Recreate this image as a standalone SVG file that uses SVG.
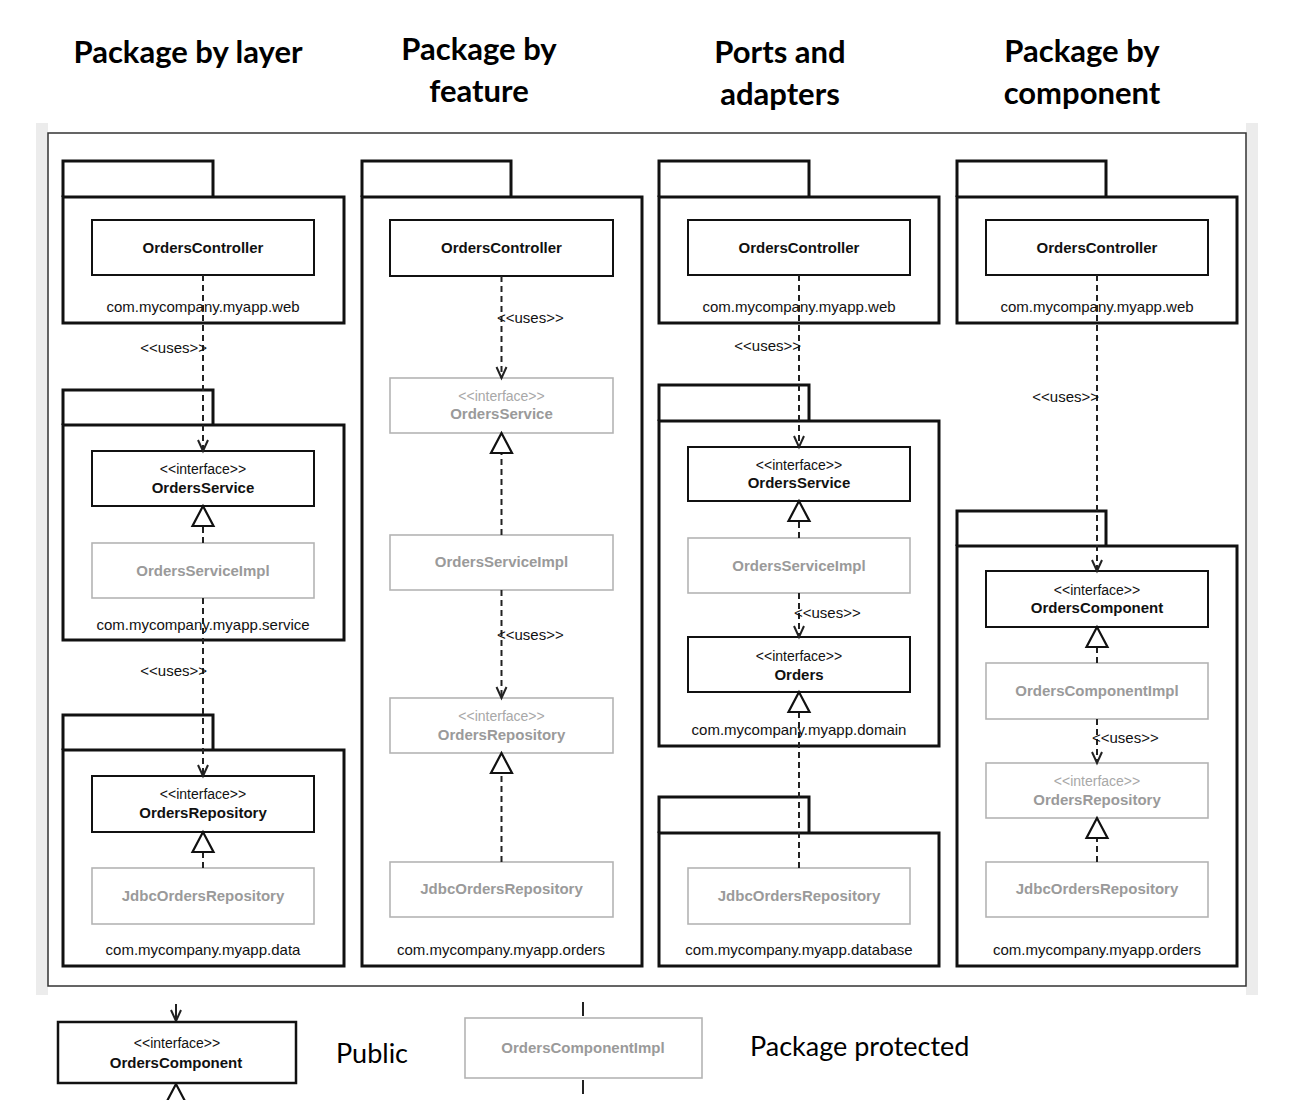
<svg xmlns="http://www.w3.org/2000/svg" width="1308" height="1100" viewBox="0 0 1308 1100">
<style>
.hd{font-family:Lato,"Liberation Sans",sans-serif;font-weight:bold;font-size:31px;fill:#000;text-anchor:middle}
.lg{font-family:Lato,"Liberation Sans",sans-serif;font-size:27px;fill:#000}
.pkg{fill:#fff;stroke:#111;stroke-width:3}
.bx{fill:#fff;stroke:#111;stroke-width:2}
.gb{fill:#fff;stroke:#b4b4b4;stroke-width:1.6}
.nm{font-family:"Liberation Sans",Arial,sans-serif;font-weight:bold;font-size:15px;fill:#111;text-anchor:middle}
.gn{font-family:"Liberation Sans",Arial,sans-serif;font-weight:bold;font-size:15px;fill:#9a9a9a;text-anchor:middle}
.st{font-family:"Liberation Sans",Arial,sans-serif;font-size:14px;fill:#111;text-anchor:middle}
.gs{font-family:"Liberation Sans",Arial,sans-serif;font-size:14px;fill:#a8a8a8;text-anchor:middle}
.pl{font-family:"Liberation Sans",Arial,sans-serif;font-size:15px;fill:#111;text-anchor:middle}
.us{font-family:"Liberation Sans",Arial,sans-serif;font-size:15px;fill:#111}
.dl{fill:none;stroke:#222;stroke-width:2;stroke-dasharray:6 4}
.use{marker-end:url(#open)}
.real{marker-end:url(#tri)}
</style>
<defs>
<marker id="open" markerUnits="userSpaceOnUse" markerWidth="14" markerHeight="14" viewBox="-12 -7 14 14" refX="0" refY="0" orient="auto" overflow="visible">
<path d="M-11,-5 L0,0 L-11,5" fill="none" stroke="#222" stroke-width="2" stroke-dasharray="none"/>
</marker>
<marker id="tri" markerUnits="userSpaceOnUse" markerWidth="24" markerHeight="26" viewBox="-22 -12 24 24" refX="0" refY="0" orient="auto" overflow="visible">
<path d="M0,0 L-20,-10.5 L-20,10.5 Z" fill="#fff" stroke="#111" stroke-width="2.2" stroke-dasharray="none"/>
</marker>
</defs>
<rect width="1308" height="1100" fill="#fff"/>
<rect x="36" y="123" width="12" height="872" fill="#ececec"/>
<rect x="1246" y="123" width="12" height="872" fill="#ececec"/>
<rect x="48" y="133" width="1198" height="853" fill="#fff" stroke="#333" stroke-width="1.5"/>

<g id="headers">
<text class="hd" x="188" y="63">Package by layer</text>
<text class="hd" x="479" y="60">Package by</text>
<text class="hd" x="479" y="102">feature</text>
<text class="hd" x="780" y="63">Ports and</text>
<text class="hd" x="780" y="105">adapters</text>
<text class="hd" x="1082" y="62">Package by</text>
<text class="hd" x="1082" y="104">component</text>
</g>

<!-- Column 1: package by layer -->
<g id="pkg-layer-web">
<path class="pkg" d="M63,197 V161 H213 V197"/>
<rect class="pkg" x="63" y="197" width="281" height="126"/>
<text class="pl" x="203" y="312">com.mycompany.myapp.web</text>
</g>
<g id="layer-OrdersController">
<rect class="bx" x="92" y="220" width="222" height="55"/>
<text class="nm" x="203" y="253">OrdersController</text>
</g>
<g id="pkg-layer-service">
<path class="pkg" d="M63,425 V390 H213 V425"/>
<rect class="pkg" x="63" y="425" width="281" height="215"/>
<text class="pl" x="203" y="630">com.mycompany.myapp.service</text>
</g>
<g id="layer-OrdersService">
<rect class="bx" x="92" y="451" width="222" height="55"/>
<text class="st" x="203" y="474">&lt;&lt;interface&gt;&gt;</text>
<text class="nm" x="203" y="493">OrdersService</text>
</g>
<g id="layer-OrdersServiceImpl">
<rect class="gb" x="92" y="543" width="222" height="55"/>
<text class="gn" x="203" y="576">OrdersServiceImpl</text>
</g>
<g id="pkg-layer-data">
<path class="pkg" d="M63,750 V715 H213 V750"/>
<rect class="pkg" x="63" y="750" width="281" height="216"/>
<text class="pl" x="203" y="955">com.mycompany.myapp.data</text>
</g>
<g id="layer-OrdersRepository">
<rect class="bx" x="92" y="776" width="222" height="56"/>
<text class="st" x="203" y="799">&lt;&lt;interface&gt;&gt;</text>
<text class="nm" x="203" y="818">OrdersRepository</text>
</g>
<g id="layer-JdbcOrdersRepository">
<rect class="gb" x="92" y="868" width="222" height="56"/>
<text class="gn" x="203" y="901">JdbcOrdersRepository</text>
</g>

<!-- Column 2: package by feature -->
<g id="pkg-feature-orders">
<path class="pkg" d="M362,197 V161 H511 V197"/>
<rect class="pkg" x="362" y="197" width="280" height="769"/>
<text class="pl" x="501" y="955">com.mycompany.myapp.orders</text>
</g>
<g id="feature-OrdersController">
<rect class="bx" x="390" y="220" width="223" height="56"/>
<text class="nm" x="501.5" y="253">OrdersController</text>
</g>
<g id="feature-OrdersService">
<rect class="gb" x="390" y="378" width="223" height="55"/>
<text class="gs" x="501.5" y="401">&lt;&lt;interface&gt;&gt;</text>
<text class="gn" x="501.5" y="419">OrdersService</text>
</g>
<g id="feature-OrdersServiceImpl">
<rect class="gb" x="390" y="535" width="223" height="55"/>
<text class="gn" x="501.5" y="567">OrdersServiceImpl</text>
</g>
<g id="feature-OrdersRepository">
<rect class="gb" x="390" y="698" width="223" height="55"/>
<text class="gs" x="501.5" y="721">&lt;&lt;interface&gt;&gt;</text>
<text class="gn" x="501.5" y="740">OrdersRepository</text>
</g>
<g id="feature-JdbcOrdersRepository">
<rect class="gb" x="390" y="862" width="223" height="55"/>
<text class="gn" x="501.5" y="894">JdbcOrdersRepository</text>
</g>

<!-- Column 3: ports and adapters -->
<g id="pkg-ports-web">
<path class="pkg" d="M659,197 V161 H809 V197"/>
<rect class="pkg" x="659" y="197" width="280" height="126"/>
<text class="pl" x="799" y="312">com.mycompany.myapp.web</text>
</g>
<g id="ports-OrdersController">
<rect class="bx" x="688" y="220" width="222" height="55"/>
<text class="nm" x="799" y="253">OrdersController</text>
</g>
<g id="pkg-ports-domain">
<path class="pkg" d="M659,421 V385 H809 V421"/>
<rect class="pkg" x="659" y="421" width="280" height="325"/>
<text class="pl" x="799" y="735">com.mycompany.myapp.domain</text>
</g>
<g id="ports-OrdersService">
<rect class="bx" x="688" y="447" width="222" height="54"/>
<text class="st" x="799" y="470">&lt;&lt;interface&gt;&gt;</text>
<text class="nm" x="799" y="488">OrdersService</text>
</g>
<g id="ports-OrdersServiceImpl">
<rect class="gb" x="688" y="538" width="222" height="55"/>
<text class="gn" x="799" y="571">OrdersServiceImpl</text>
</g>
<g id="ports-Orders">
<rect class="bx" x="688" y="637" width="222" height="55"/>
<text class="st" x="799" y="661">&lt;&lt;interface&gt;&gt;</text>
<text class="nm" x="799" y="680">Orders</text>
</g>
<g id="pkg-ports-database">
<path class="pkg" d="M659,833 V797 H809 V833"/>
<rect class="pkg" x="659" y="833" width="280" height="133"/>
<text class="pl" x="799" y="955">com.mycompany.myapp.database</text>
</g>
<g id="ports-JdbcOrdersRepository">
<rect class="gb" x="688" y="868" width="222" height="56"/>
<text class="gn" x="799" y="901">JdbcOrdersRepository</text>
</g>

<!-- Column 4: package by component -->
<g id="pkg-component-web">
<path class="pkg" d="M957,197 V161 H1106 V197"/>
<rect class="pkg" x="957" y="197" width="280" height="126"/>
<text class="pl" x="1097" y="312">com.mycompany.myapp.web</text>
</g>
<g id="component-OrdersController">
<rect class="bx" x="986" y="220" width="222" height="55"/>
<text class="nm" x="1097" y="253">OrdersController</text>
</g>
<g id="pkg-component-orders">
<path class="pkg" d="M957,546 V511 H1106 V546"/>
<rect class="pkg" x="957" y="546" width="280" height="420"/>
<text class="pl" x="1097" y="955">com.mycompany.myapp.orders</text>
</g>
<g id="component-OrdersComponent">
<rect class="bx" x="986" y="571" width="222" height="56"/>
<text class="st" x="1097" y="595">&lt;&lt;interface&gt;&gt;</text>
<text class="nm" x="1097" y="613">OrdersComponent</text>
</g>
<g id="component-OrdersComponentImpl">
<rect class="gb" x="986" y="663" width="222" height="56"/>
<text class="gn" x="1097" y="696">OrdersComponentImpl</text>
</g>
<g id="component-OrdersRepository">
<rect class="gb" x="986" y="763" width="222" height="55"/>
<text class="gs" x="1097" y="786">&lt;&lt;interface&gt;&gt;</text>
<text class="gn" x="1097" y="805">OrdersRepository</text>
</g>
<g id="component-JdbcOrdersRepository">
<rect class="gb" x="986" y="862" width="222" height="55"/>
<text class="gn" x="1097" y="894">JdbcOrdersRepository</text>
</g>

<g id="connectors">
<path class="dl use" d="M203,275 V451"/>
<path class="dl use" d="M203,598 V776"/>
<path class="dl real" d="M203,543 V506"/>
<path class="dl real" d="M203,868 V832"/>
<path class="dl use" d="M501.5,276 V378"/>
<path class="dl use" d="M501.5,590 V698"/>
<path class="dl real" d="M501.5,535 V433"/>
<path class="dl real" d="M501.5,862 V753"/>
<path class="dl use" d="M799,275 V447"/>
<path class="dl use" d="M799,593 V637"/>
<path class="dl real" d="M799,538 V501"/>
<path class="dl real" d="M799,868 V692"/>
<path class="dl use" d="M1097,275 V571"/>
<path class="dl use" d="M1097,719 V763"/>
<path class="dl real" d="M1097,663 V627"/>
<path class="dl real" d="M1097,862 V818"/>
<text class="us" x="207" y="353" text-anchor="end">&lt;&lt;uses&gt;&gt;</text>
<text class="us" x="207" y="676" text-anchor="end">&lt;&lt;uses&gt;&gt;</text>
<text class="us" x="497" y="323">&lt;&lt;uses&gt;&gt;</text>
<text class="us" x="497" y="640">&lt;&lt;uses&gt;&gt;</text>
<text class="us" x="801" y="351" text-anchor="end">&lt;&lt;uses&gt;&gt;</text>
<text class="us" x="794" y="618">&lt;&lt;uses&gt;&gt;</text>
<text class="us" x="1099" y="402" text-anchor="end">&lt;&lt;uses&gt;&gt;</text>
<text class="us" x="1092" y="743">&lt;&lt;uses&gt;&gt;</text>
</g>

<g id="legend-public">
<path d="M176,1004 V1021" fill="none" stroke="#222" stroke-width="2" marker-end="url(#open)"/>
<path d="M176,1110 V1084" fill="none" stroke="#222" stroke-width="2" marker-end="url(#tri)"/>
<rect x="58" y="1022" width="238" height="61" fill="#fff" stroke="#111" stroke-width="2.5"/>
<text class="st" x="177" y="1048">&lt;&lt;interface&gt;&gt;</text>
<text class="nm" x="176" y="1068">OrdersComponent</text>
<text class="lg" x="336" y="1063">Public</text>
</g>
<g id="legend-protected">
<path d="M583,1002 V1016 M583,1080 V1094" fill="none" stroke="#222" stroke-width="2"/>
<rect class="gb" x="465" y="1018" width="237" height="60"/>
<text class="gn" x="583" y="1053">OrdersComponentImpl</text>
<text class="lg" x="750" y="1056">Package protected</text>
</g>
</svg>
